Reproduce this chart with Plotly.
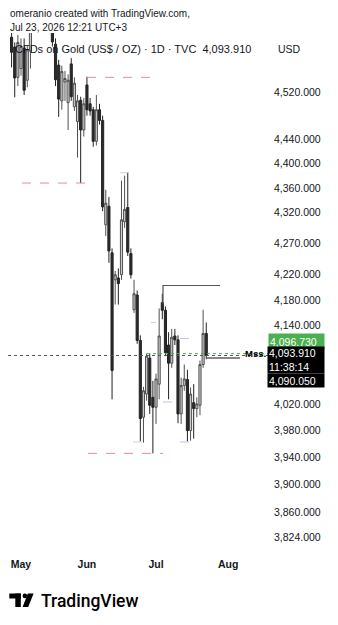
import pandas as pd
import plotly.graph_objects as go

# ---------------- data ----------------
dates = [d.strftime("%Y-%m-%d") for d in pd.bdate_range("2026-04-28", "2026-07-23")]
open_ = [4614, 4597, 4545, 4560, 4595, 4540, 4590, 4632, 4690, 4722, 4705, 4668, 4655,
         4642, 4602, 4566, 4505, 4537, 4502, 4568, 4495, 4470, 4506, 4456, 4532, 4500,
         4490, 4437, 4490, 4472, 4300, 4330, 4255, 4212, 4215, 4220, 4305, 4328, 4254,
         4165, 4188, 4117, 4000, 4035, 4090, 4030, 4015, 4050, 4176, 4164, 4110, 4082,
         4124, 4118, 4005, 4048, 4057, 3980, 4022, 4013, 4018, 4080, 4128]
high = [4630, 4605, 4618, 4612, 4612, 4600, 4650, 4700, 4745, 4760, 4728, 4702, 4690,
        4662, 4612, 4575, 4565, 4556, 4550, 4578, 4545, 4515, 4512, 4510, 4546, 4510,
        4495, 4515, 4500, 4480, 4357, 4345, 4262, 4226, 4230, 4372, 4380, 4385, 4262,
        4212, 4195, 4125, 4046, 4097, 4097, 4055, 4066, 4167, 4190, 4170, 4130, 4135,
        4135, 4125, 4060, 4080, 4072, 4045, 4050, 4030, 4086, 4165, 4145]
low = [4562, 4511, 4530, 4548, 4515, 4528, 4560, 4626, 4668, 4690, 4650, 4632, 4628,
       4598, 4530, 4478, 4490, 4505, 4456, 4505, 4488, 4410, 4368, 4445, 4480, 4480,
       4428, 4430, 4465, 4322, 4282, 4239, 4027, 4173, 4173, 4212, 4295, 4250, 4214,
       4160, 4112, 3964, 3962, 4025, 4005, 3946, 3990, 4027, 4150, 4093, 4027, 4075,
       4110, 3991, 3990, 4040, 3964, 3965, 3968, 4000, 4003, 4075, 4088]
close = [4588, 4544, 4605, 4598, 4523, 4592, 4632, 4690, 4722, 4705, 4668, 4655, 4642,
         4606, 4541, 4508, 4555, 4543, 4540, 4512, 4535, 4505, 4456, 4500, 4490, 4488,
         4437, 4490, 4472, 4329, 4335, 4258, 4071, 4220, 4206, 4308, 4325, 4256, 4220,
         4190, 4117, 3998, 4040, 4093, 4018, 4015, 4058, 4124, 4164, 4098, 4082, 4122,
         4118, 4005, 4048, 4058, 3980, 4035, 4013, 4020, 4080, 4128, 4093.91]

month_names = ["May", "Jun", "Jul", "Aug"]
month_starts = ["2026-05-01", "2026-06-01", "2026-07-01", "2026-08-03"]

tick_prices = [4520, 4440, 4400, 4360, 4320, 4270, 4220, 4180, 4140,
               4020, 3980, 3940, 3900, 3860, 3824]

last_price = 4093.91
green_level = 4096.73
black_level = 4090.05
box_level = 4203
box_low = 4173
pink_levels = [4545, 4368, 3946]

# ---------------- geometry helpers ----------------
W_FIG, H_FIG = 338, 625
L, R, T, B = 8, 270, 33, 550
PW, PH = R - L, B - T

def xp(px):
    return (px - L) / PW

def yp(py):
    return (B - py) / PH

all_days = [d.strftime("%Y-%m-%d") for d in pd.bdate_range("2026-04-28", "2026-09-30")]
idx = list(range(len(dates)))
tickpos = [all_days.index(m) for m in month_starts]

# pixel->index mapping (x px = 11.58 + 3.14*j)
def jx(px):
    return (px - 11.58) / 3.14

fig = go.Figure()

fig.add_trace(go.Candlestick(
    x=idx, open=open_, high=high, low=low, close=close,
    increasing=dict(fillcolor="#cdcdcd", line=dict(color="#505050", width=1)),
    decreasing=dict(fillcolor="#2b2b2b", line=dict(color="#222222", width=1)),
    whiskerwidth=0, hoverinfo="skip", showlegend=False,
))

def hline(x0, x1, y, color, dash="solid", width=1):
    fig.add_trace(go.Scatter(x=[x0, x1], y=[y, y], mode="lines",
                             line=dict(color=color, dash=dash, width=width),
                             hoverinfo="skip", showlegend=False))

pink = "#e58aa0"
hline(jx(87), jx(153), pink_levels[0], pink, "dash")
hline(jx(22), jx(88), pink_levels[1], pink, "dash")
hline(jx(88), jx(163), pink_levels[2], pink, "dash")

# small swing markers
gray_d = "#c4c4c4"
blue_d = "#aab3ea"
hline(jx(120), jx(135), 4385, gray_d, "dash", 0.8)
hline(jx(151), jx(156), 4145, gray_d, "dash", 0.8)
hline(jx(133), jx(147), 3963, gray_d, "dash", 0.8)
hline(jx(180), jx(193), 4120, blue_d, "dash", 0.8)
hline(jx(163), jx(177), 4023, blue_d, "dash", 0.8)
hline(jx(180), jx(193), 3963, blue_d, "dash", 0.8)

# bracket line
fig.add_trace(go.Scatter(x=[jx(163), jx(163), jx(220)], y=[box_low, box_level, box_level],
                         mode="lines", line=dict(color="#555555", width=1.2),
                         hoverinfo="skip", showlegend=False))

# price lines
hline(jx(8), jx(270), last_price, "#555555", "dot", 1)
hline(jx(147), jx(270), green_level, "#4caf50", "dot", 1)
hline(jx(207), jx(240), black_level, "#111111", "solid", 1.2)

FONT = "Liberation Sans"
TXT = "#131722"

ann = []
ann.append(dict(x=xp(8), y=yp(14), text="omeranio created with TradingView.com,",
                xanchor="left", yanchor="middle", font=dict(size=10, color=TXT)))
ann.append(dict(x=xp(8), y=yp(27.5), text="Jul 23, 2026 12:21 UTC+3",
                xanchor="left", yanchor="middle", font=dict(size=10, color=TXT)))
ann.append(dict(x=xp(13), y=yp(49),
                text="CFDs on Gold (US$ / OZ) · 1D · TVC\u00a0\u00a04,093.910",
                xanchor="left", yanchor="middle", font=dict(size=11, color=TXT)))
ann.append(dict(x=xp(276), y=yp(49), text="USD", xanchor="left", yanchor="middle",
                font=dict(size=10.5, color=TXT)))
ann.append(dict(x=xp(243), y=yp(353), text="Mss.", xanchor="left", yanchor="middle",
                font=dict(size=9.5, color="#000000", weight="bold")))
# axis price labels
ann.append(dict(x=xp(268), y=yp(341.5), text="4,096.730", xanchor="left", yanchor="middle",
                bgcolor="#4caf50", width=53, height=13, align="left", borderpad=1,
                font=dict(size=10.5, color="#ffffff")))
ann.append(dict(x=xp(267), y=yp(360), text="4,093.910<br>11:38:14", xanchor="left",
                yanchor="middle", bgcolor="#000000", width=54, height=24, align="left",
                borderpad=1, font=dict(size=10.5, color="#ffffff")))
ann.append(dict(x=xp(267), y=yp(380.5), text="4,090.050", xanchor="left", yanchor="middle",
                bgcolor="#000000", width=54, height=11, align="left", borderpad=1,
                font=dict(size=10.5, color="#ffffff")))
# TradingView wordmark
ann.append(dict(x=xp(38.5), y=yp(601), text="TradingView", xanchor="left", yanchor="middle",
                font=dict(size=17.5, color="#000000", weight=500, family="Roboto")))
for a in ann:
    a.update(xref="paper", yref="paper", showarrow=False)

shapes = []
def prect(x0, y0, x1, y1):
    shapes.append(dict(type="rect", xref="paper", yref="paper",
                       x0=xp(x0), x1=xp(x1), y0=yp(y0), y1=yp(y1),
                       fillcolor="#000000", line=dict(width=0)))
prect(9.3, 593.5, 20.8, 598.5)
prect(15.3, 593.5, 20.8, 607)
shapes.append(dict(type="circle", xref="paper", yref="paper",
                   x0=xp(22.6), x1=xp(27.2), y0=yp(593.5), y1=yp(598.3),
                   fillcolor="#000000", line=dict(width=0)))
shapes.append(dict(type="path", xref="paper", yref="paper",
                   path=f"M {xp(27.8)} {yp(593.5)} L {xp(33.6)} {yp(593.5)} "
                        f"L {xp(28.2)} {yp(607)} L {xp(22.6)} {yp(607)} Z",
                   fillcolor="#000000", line=dict(width=0)))

log_lo, log_hi = 3.58039, 3.66477

fig.update_layout(
    width=W_FIG, height=H_FIG,
    margin=dict(l=L, r=W_FIG - R, t=T, b=H_FIG - B),
    paper_bgcolor="#ffffff", plot_bgcolor="#ffffff",
    font=dict(family=FONT, color=TXT),
    annotations=ann, shapes=shapes,
    boxgap=0.04,
    xaxis=dict(range=[jx(L), jx(R)], tickmode="array", tickvals=tickpos,
               ticktext=month_names, showgrid=False, zeroline=False,
               showline=False, ticks="", rangeslider=dict(visible=False),
               tickfont=dict(size=10.5, color=TXT, weight="bold"),
               ticklabelstandoff=6),
    yaxis=dict(type="log", side="right", range=[log_lo, log_hi],
               tickmode="array", tickvals=tick_prices,
               ticktext=[f"{v:,.3f}" for v in tick_prices],
               showgrid=False, zeroline=False, showline=False, ticks="",
               tickfont=dict(size=10.5, color=TXT), ticklabelstandoff=3),
)

fig.write_html("out.html")
